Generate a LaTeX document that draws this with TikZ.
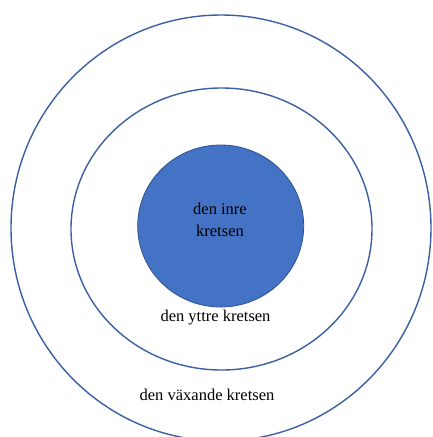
\documentclass[tikz,border=0pt]{standalone}
\usepackage{fontspec}
\setmainfont{Liberation Serif}
\usetikzlibrary{positioning,shapes.geometric}
\definecolor{ringblue}{HTML}{3A5FA3}
\definecolor{corefill}{HTML}{4472C4}
\definecolor{coredraw}{HTML}{2F528F}
\begin{document}
\begin{tikzpicture}[
					x=1pt, y=-1pt,
					ring/.style={ellipse, draw=ringblue, line width=1.4pt, inner sep=0pt},
					core/.style={ellipse, draw=coredraw, fill=corefill, line width=0.8pt, inner sep=0pt,
						minimum width=166pt, minimum height=162pt},
					labeltext/.style={font=\fontsize{16.5pt}{22pt}\selectfont, align=center, inner sep=0pt}
					]
					\useasboundingbox (0,0) rectangle (432,437);
					
					% ===== RINGS =====
					\node[ring, minimum width=420pt, minimum height=426pt] (outer) at (221,228) {};
					\node[ring, minimum width=301pt, minimum height=282pt] (middle) at (221.5,229) {};
					
					% ===== CORE =====
					\node[core] (inner) at (220.7,226) {};
					\node[labeltext] (lblInner) at (220,220) {den inre\\kretsen};
					
					% ===== LABELS =====
					\node[labeltext] (lblMiddle) at (215.5,318) {den yttre kretsen};
					\node[labeltext] (lblOuter) at (207,395) {den växande kretsen};
				\end{tikzpicture}
\end{document}
